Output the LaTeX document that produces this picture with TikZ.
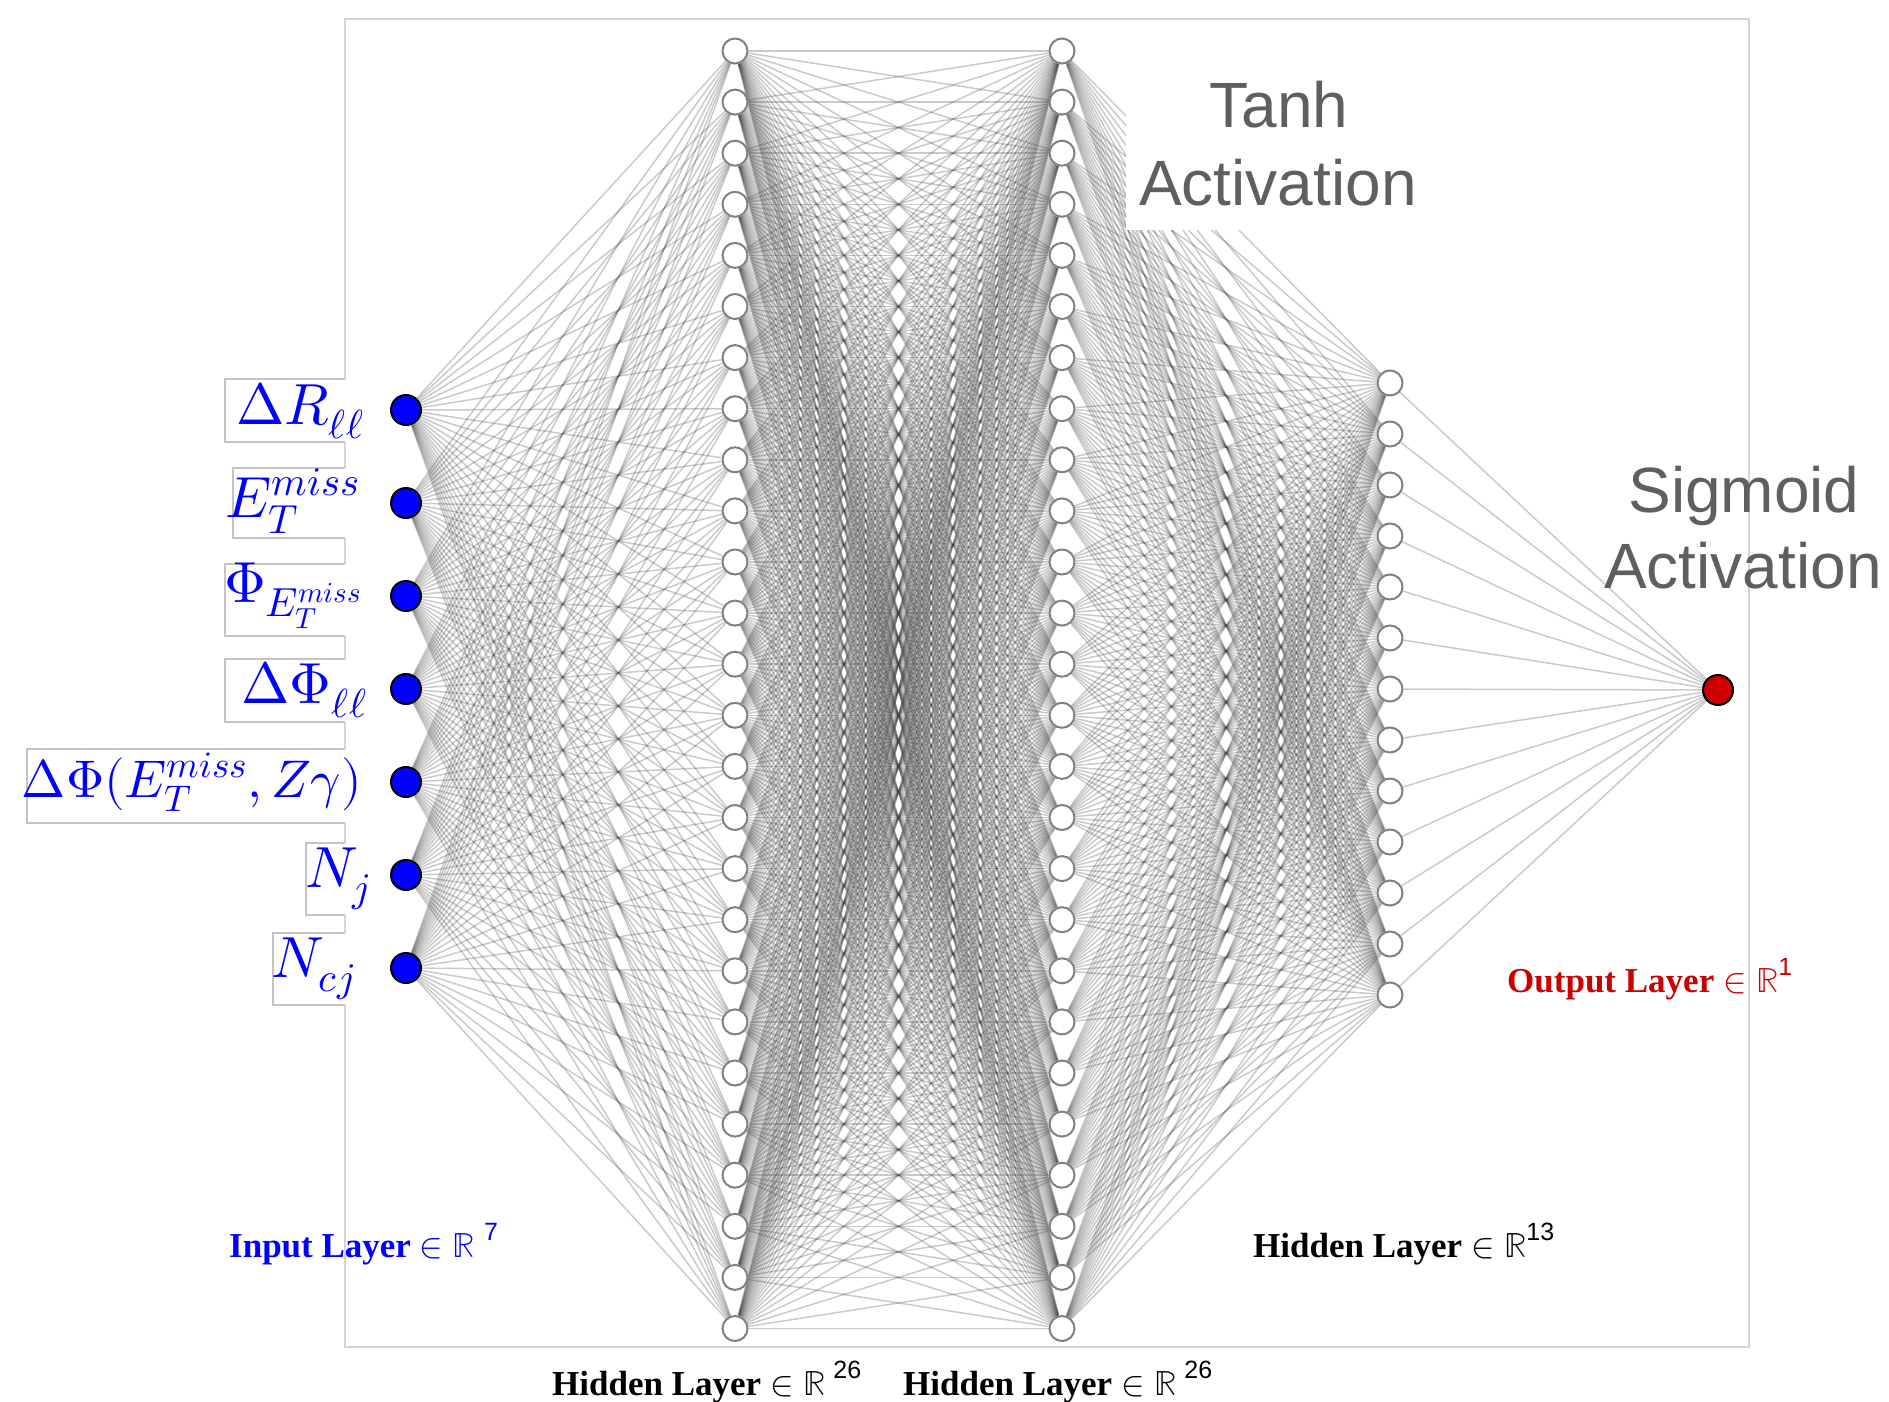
\documentclass[tikz,border=0pt]{standalone}
\usepackage{fontspec}
\usepackage{unicode-math}
\setmathfont{Latin Modern Math}
\newfontfamily\tnrfont{Liberation Serif}
\newfontfamily\helvfont{Liberation Sans}
\usetikzlibrary{backgrounds}
\definecolor{actgray}{RGB}{95,95,95}
\definecolor{outred}{RGB}{204,0,0}
\definecolor{inblue}{RGB}{0,0,255}
\definecolor{framegray}{RGB}{212,212,212}
\definecolor{boxgray}{RGB}{196,196,196}
\tikzset{
  hid/.style={circle, draw=black!50, fill=white, line width=2pt, minimum size=25pt, inner sep=0pt},
  inp/.style={circle, draw=black, fill=inblue, line width=2pt, minimum size=30pt, inner sep=0pt},
  outp/.style={circle, draw=black, fill=outred, line width=2pt, minimum size=30pt, inner sep=0pt},
  conn/.style={draw=black!75, draw opacity=0.28, line width=1.5pt},
  frameline/.style={draw=framegray, line width=2pt},
  lbox/.style={draw=boxgray, line width=1.5pt},
  mlab/.style={text=inblue, inner sep=0pt, font=\fontsize{58}{62}\selectfont},
  actlab/.style={text=actgray, inner sep=0pt, font=\helvfont\fontsize{64}{70}\selectfont},
  laylab/.style={inner sep=0pt, anchor=base west, font=\tnrfont\bfseries\fontsize{35}{40}\selectfont},
}
\newcommand{\supnum}[1]{\raisebox{17pt}{\helvfont\mdseries\fontsize{25}{25}\selectfont #1}}
\begin{document}
\begin{tikzpicture}[x=1pt,y=-1pt]
\useasboundingbox (0,0) rectangle (1889,1402);

% nodes
\foreach \i in {1,...,7} \node[inp] (a\i) at (406,{410+(\i-1)*93}) {};
\foreach \i in {1,...,26} \node[hid] (b\i) at (735,{51+(\i-1)*51.1}) {};
\foreach \i in {1,...,26} \node[hid] (c\i) at (1062,{51+(\i-1)*51.1}) {};
\foreach \i in {1,...,13} \node[hid] (d\i) at (1390,{383+(\i-1)*51}) {};
\node[outp] (out) at (1718,690) {};

\begin{scope}[on background layer]
  \draw[frameline] (344.5,19) rectangle (1749,1347);
  \foreach \i in {1,...,7} \foreach \j in {1,...,26} \draw[conn] (a\i) -- (b\j);
  \foreach \i in {1,...,26} \foreach \j in {1,...,26} \draw[conn] (b\i) -- (c\j);
  \foreach \i in {1,...,26} \foreach \j in {1,...,13} \draw[conn] (c\i) -- (d\j);
  \foreach \i in {1,...,13} \draw[conn] (d\i) -- (out);
  % white box behind Tanh label
  \fill[white] (1126,60) rectangle (1440,230);
  % label boxes
  \foreach \xl/\yt/\yb in {225/379/442, 233/468/538, 225/564/636, 225/659/722, 27/749/823, 306/843/915, 273/933/1005}{
    \fill[white] (\xl,\yt) rectangle (346,\yb);
    \draw[lbox] (344.5,\yt) -- (\xl,\yt) -- (\xl,\yb) -- (344.5,\yb);
  }
\end{scope}

% input labels
\node[mlab, anchor=base east] (l1) at (364,424) {$\Delta R_{\ell\ell}$};
\node[mlab, anchor=base east] (l2) at (360,517) {$E_T^{miss}$};
\node[mlab, anchor=base east] (l3) at (362,602) {$\Phi_{E_T^{miss}}$};
\node[mlab, anchor=base east] (l4) at (367,703) {$\Delta\Phi_{\ell\ell}$};
\node[mlab, anchor=base east, font=\fontsize{53}{58}\selectfont] (l5) at (362,797) {$\Delta\Phi(E_T^{miss},Z\gamma)$};
\node[mlab, anchor=base east] (l6) at (370,887) {$N_j$};
\node[mlab, anchor=base east] (l7) at (355,977) {$N_{cj}$};

% activation labels
\node[actlab, anchor=base] (t1) at (1279,128) {Tanh};
\node[actlab, anchor=base] (t2) at (1278,205) {Activation};
\node[actlab, anchor=base] (s1) at (1744,512) {Sigmoid};
\node[actlab, anchor=base] (s2) at (1743,588) {Activation};

% layer labels
\node[laylab, text=inblue] (li) at (229,1257) {Input Layer $\in\mathbb{R}$\hspace{9pt}\supnum{7}};
\node[laylab] (lh1) at (552,1395) {Hidden Layer $\in\mathbb{R}$\hspace{8pt}\supnum{26}};
\node[laylab] (lh2) at (903,1395) {Hidden Layer $\in\mathbb{R}$\hspace{8pt}\supnum{26}};
\node[laylab] (lh3) at (1253,1257) {Hidden Layer $\in\mathbb{R}$\supnum{13}};
\node[laylab, text=outred] (lo) at (1507,992) {Output Layer $\in\mathbb{R}$\supnum{1}};
\end{tikzpicture}
\end{document}
